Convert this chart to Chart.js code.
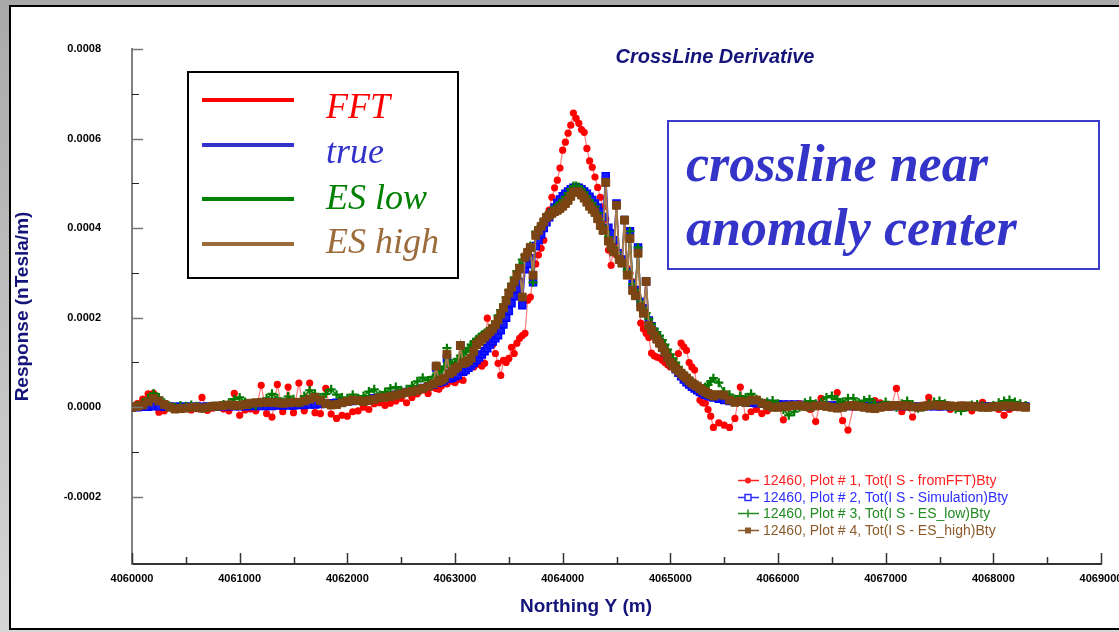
<!DOCTYPE html>
<html>
<head>
<meta charset="utf-8">
<script src="https://cdn.jsdelivr.net/npm/chart.js@4.4.0/dist/chart.umd.min.js"></script>
<style>
  html, body { margin: 0; padding: 0; }
  body {
    width: 1119px; height: 632px; overflow: hidden; position: relative;
    background: linear-gradient(to bottom, #a9a9a9, #d6d6d6);
  }
  #frame {
    position: absolute; left: 9px; top: 5px; width: 1120px; height: 621px;
    border-left: 2px solid #000; border-top: 2px solid #000; border-bottom: 2px solid #000;
    background: #fff;
  }
  #chart { position: absolute; left: 0; top: 0; }
</style>
</head>
<body>
<div id="frame"></div>
<canvas id="chart" width="1119" height="632"></canvas>
<script>
// stations along the crossline: every 50 m, every 25 m over the anomaly
const startNorthing = 4060000;
const endNorthing = 4068300;
const denseFrom = 4062800, denseTo = 4065400;

// responses in 1e-6 nTesla/m
// (rows: 4060000-4062750 by 50 m | 4062800-4065400 by 25 m | 4065450-4068300 by 50 m)
const fftResponse = [
  0,8,18,30,31,-11,-8,0,2,-4, -2,-6,-3,22,-7,-2,0,-4,-8,31,
  -18,-6,-4,-8,49,-14,-22,51,-10,45, -12,54,-8,54,-12,-14,42,-15,-25,-18,
  -20,-10,-8,0,-5,8,10,4,9,14, 20,10,22,30,38,31,
  45,42,40,48,60,52,60,58,55,62, 83,60,80,88,95,90,100,96,92,98,
  199,165,140,120,98,71,105,100,109,134, 120,143,154,160,165,239,246,290,320,340,
  355,373,420,440,469,490,507,534,574,592, 612,630,657,645,634,620,614,578,550,536,
  514,491,469,447,420,351,317,360,340,335, 325,322,310,299,280,265,246,188,175,165,
  156,121,115,112,110,105,100,95,90,92, 89,120,143,135,127,100,90,83,40,16,
  10,9,-5,-20,-45,
  -35,-40,-45,-25,45,-22,-10,-5,-14,-8, 0,5,-28,0,5,8,0,-5,-32,20,
  5,0,33,-30,-51,0,5,0,5,15, 10,5,0,42,-10,0,-22,0,5,22,
  5,0,2,-5,0,5,0,-8,0,11, 3,0,-5,-18,-5,0,5,4
];
const trueResponse = [
  0,0,1,1,2,2,1,1,1,1, 1,1,1,1,2,2,2,2,2,2,
  2,2,3,3,3,3,3,4,4,4, 4,5,5,6,6,7,8,9,10,11,
  13,14,15,17,18,20,22,24,26,28, 31,34,37,40,43,47,
  51,89,55,57,60,109,64,66,69,72, 138,79,83,88,93,99,105,111,118,125,
  132,140,147,154,161,172,185,200,215,232, 248,264,280,228,308,320,333,279,360,373,
  386,400,413,424,435,446,456,464,471,477, 482,487,490,491,490,487,482,477,470,463,
  455,446,436,425,516,401,388,373,455,344, 330,418,302,393,275,262,357,235,221,281,
  194,181,168,156,145,134,123,112,102,93, 85,77,69,62,56,51,46,42,38,34,
  31,28,26,24,22,
  19,16,14,13,12,11,10,9,8,8, 7,7,6,6,6,5,5,5,5,4,
  4,4,4,3,3,3,3,3,3,3, 3,3,3,3,3,3,2,2,2,2,
  2,2,2,2,2,2,2,2,2,2, 2,2,2,2,2,2,2,2
];
const esLowResponse = [
  0,4,10,20,31,22,10,3,0,4, 2,5,2,-3,0,3,2,6,10,18,
  22,12,6,4,10,20,30,20,12,24, 18,10,25,38,30,22,30,40,28,22,
  20,28,20,25,35,40,28,34,42,45, 38,40,48,58,66,60,
  68,72,78,84,90,132,96,98,100,108, 115,120,125,132,140,146,152,157,162,166,
  170,176,182,192,205,217,230,246,262,276, 290,304,318,330,340,350,360,279,392,398,
  405,417,428,434,440,445,450,456,462,470, 478,487,494,494,492,486,480,471,462,455,
  448,434,420,405,392,380,370,357,345,335, 325,315,305,393,275,262,357,236,222,210,
  198,186,175,168,160,150,140,129,118,109, 100,90,80,75,70,64,58,53,48,44,
  40,45,50,58,65,
  55,35,28,18,25,22,30,18,10,12, 15,8,-5,-18,-10,0,10,14,8,10,
  22,25,18,12,20,20,10,15,18,8, 3,12,4,0,8,14,6,-2,0,8,
  12,14,8,2,-4,-8,0,5,6,3, 0,4,10,14,16,12,8,4
];
const esHighResponse = [
  0,2,5,12,20,14,6,0,-4,-3, -2,0,0,-2,0,2,3,4,5,4,
  4,6,9,10,11,11,11,10,9,10, 11,11,14,18,22,15,8,5,6,10,
  13,16,15,13,15,18,21,22,24,27, 30,33,35,38,42,46,
  52,92,58,61,65,118,75,80,86,90, 138,98,100,104,110,125,140,146,152,157,
  163,169,175,184,195,208,222,238,255,268, 280,295,310,246,335,346,357,295,384,395,
  404,414,424,429,433,437,440,444,449,455, 462,471,480,482,480,474,467,458,449,442,
  435,421,406,395,502,371,357,347,451,330, 322,418,295,377,261,249,344,224,210,281,
  183,172,161,152,143,133,123,111,100,93, 87,81,76,70,65,59,54,50,47,42,
  38,34,31,28,25,
  28,27,16,11,13,11,16,16,9,4, 0,0,2,3,4,4,2,0,3,4,
  2,0,-2,0,3,4,2,0,-2,-3, 0,2,3,4,4,3,1,0,2,4,
  5,4,4,3,2,3,3,2,1,0, 0,1,2,3,3,2,1,0
];

const xMin = 4060000, xMax = 4069000, xMajorStep = 1000, xMinorStep = 500;
const yMin = -0.00035, yMax = 0.0008;
const yTickValues = [-0.0002, 0, 0.0002, 0.0004, 0.0006, 0.0008];
const yMinorValues = [-0.0001, 0.0001, 0.0003, 0.0005, 0.0007];

const keyLabels = ['FFT', 'true', 'ES low', 'ES high'];
const plotLabels = [
  '12460, Plot # 1, Tot(I S - fromFFT)Bty',
  '12460, Plot # 2, Tot(I S - Simulation)Bty',
  '12460, Plot # 3, Tot(I S - ES_low)Bty',
  '12460, Plot # 4, Tot(I S - ES_high)Bty'
];
const noteLines = ['crossline near', 'anomaly center'];

const northing = [];
for (let n = startNorthing; n <= endNorthing; n += (n >= denseFrom && n < denseTo) ? 25 : 50) {
  northing.push(n);
}
const toPoints = arr => arr.map((v, i) => ({ x: northing[i], y: v * 1e-6 }));

const navy = '#14147a';
const serif = "'Liberation Serif', 'DejaVu Serif', serif";
const sans = "'Liberation Sans', Arial, sans-serif";

const overlayPlugin = {
  id: 'overlay',
  afterDraw(chart) {
    const ctx = chart.ctx;
    const xs = chart.scales.x, ys = chart.scales.y;
    ctx.save();

    // tick marks pointing into the plot
    for (let v = xMin; v <= xMax; v += xMinorStep) {
      const px = Math.round(xs.getPixelForValue(v)) + 0.5;
      const major = v % xMajorStep === 0;
      ctx.strokeStyle = '#333';
      ctx.lineWidth = 1.5;
      ctx.beginPath();
      ctx.moveTo(px, xs.top);
      ctx.lineTo(px, xs.top - (major ? 11 : 7));
      ctx.stroke();
    }
    yTickValues.forEach(v => {
      const py = Math.round(ys.getPixelForValue(v)) + 0.5;
      ctx.strokeStyle = '#777';
      ctx.lineWidth = 1.5;
      ctx.beginPath();
      ctx.moveTo(ys.right, py);
      ctx.lineTo(ys.right + 11, py);
      ctx.stroke();
    });
    yMinorValues.forEach(v => {
      const py = Math.round(ys.getPixelForValue(v)) + 0.5;
      ctx.strokeStyle = '#222';
      ctx.lineWidth = 1;
      ctx.beginPath();
      ctx.moveTo(ys.right, py);
      ctx.lineTo(ys.right + 7, py);
      ctx.stroke();
    });

    // chart title and x title
    ctx.fillStyle = navy;
    ctx.textAlign = 'center';
    ctx.textBaseline = 'middle';
    ctx.font = 'bold italic 20px ' + sans;
    ctx.fillText('CrossLine Derivative', 715, 57);
    ctx.font = 'bold 19px ' + sans;
    ctx.fillText('Northing Y (m)', 586, 607);

    // big key box, top left
    const keyColors = ['#ff0000', '#3333cc', '#008000', '#9c6b3c'];
    const keyLineY = [100, 145, 199, 244];
    const keyBase = [118, 163, 209, 253];
    ctx.fillStyle = '#fff';
    ctx.fillRect(188, 72, 270, 206);
    ctx.strokeStyle = '#000';
    ctx.lineWidth = 2;
    ctx.strokeRect(188, 72, 270, 206);
    ctx.textAlign = 'left';
    ctx.textBaseline = 'alphabetic';
    ctx.font = 'italic 36px ' + serif;
    keyLabels.forEach((lab, i) => {
      ctx.strokeStyle = keyColors[i];
      ctx.lineWidth = 4;
      ctx.beginPath();
      ctx.moveTo(202, keyLineY[i]);
      ctx.lineTo(294, keyLineY[i]);
      ctx.stroke();
      ctx.fillStyle = keyColors[i];
      ctx.fillText(lab, 326, keyBase[i]);
    });

    // note box
    ctx.strokeStyle = '#3c3ccc';
    ctx.lineWidth = 2;
    ctx.strokeRect(668, 121, 431, 148);
    ctx.fillStyle = '#3434c8';
    ctx.font = 'bold italic 52px ' + serif;
    ctx.fillText(noteLines[0], 686, 181);
    ctx.fillText(noteLines[1], 686, 245);

    // plot legend, bottom right
    const legColors = ['#ff2020', '#2f2fff', '#228b22', '#8b5a2b'];
    const legY = [480, 497, 513, 530];
    ctx.font = '14px ' + sans;
    ctx.textBaseline = 'middle';
    plotLabels.forEach((lab, i) => {
      const y = legY[i] + 0.5;
      ctx.strokeStyle = legColors[i];
      ctx.lineWidth = 1.5;
      ctx.beginPath();
      ctx.moveTo(738, y);
      ctx.lineTo(759, y);
      ctx.stroke();
      ctx.fillStyle = legColors[i];
      if (i === 0) {
        ctx.beginPath(); ctx.arc(748, y, 3, 0, Math.PI * 2); ctx.fill();
      } else if (i === 1) {
        ctx.fillStyle = '#fff'; ctx.fillRect(745, y - 3, 6, 6);
        ctx.strokeRect(745, y - 3, 6, 6);
      } else if (i === 2) {
        ctx.beginPath(); ctx.moveTo(748, y - 4); ctx.lineTo(748, y + 4); ctx.stroke();
      } else {
        ctx.fillRect(745, y - 3, 6, 6);
      }
      ctx.fillStyle = legColors[i];
      ctx.fillText(lab, 763, legY[i] + 1);
    });
    ctx.restore();
  }
};

const ctx = document.getElementById('chart').getContext('2d');
new Chart(ctx, {
  type: 'scatter',
  data: {
    datasets: [
      {
        label: plotLabels[0], data: toPoints(fftResponse), showLine: true, order: 3,
        borderColor: 'rgba(255,40,40,0.6)', borderWidth: 1.2,
        pointStyle: 'circle', pointRadius: 3.6, pointBackgroundColor: '#ff0000',
        pointBorderColor: '#ff0000', pointBorderWidth: 0
      },
      {
        label: plotLabels[1], data: toPoints(trueResponse), showLine: true, order: 2,
        borderColor: '#0000ff', borderWidth: 1.5,
        pointStyle: 'rect', pointRadius: 5, pointBackgroundColor: '#1a1aff',
        pointBorderColor: '#0000ff', pointBorderWidth: 1.4
      },
      {
        label: plotLabels[2], data: toPoints(esLowResponse), showLine: true, order: 1,
        borderColor: '#007a00', borderWidth: 1.5,
        pointStyle: 'cross', pointRadius: 4.5, pointBorderColor: '#007a00', pointBorderWidth: 2.2
      },
      {
        label: plotLabels[3], data: toPoints(esHighResponse), showLine: true, order: 0,
        borderColor: '#a77a4c', borderWidth: 2,
        pointStyle: 'rect', pointRadius: 5.6, pointBackgroundColor: '#7b4513',
        pointBorderColor: '#7b4513', pointBorderWidth: 1
      }
    ]
  },
  options: {
    responsive: false,
    animation: false,
    devicePixelRatio: 1,
    events: [],
    layout: { padding: { left: 0, right: 0, top: 49, bottom: 0 } },
    plugins: {
      legend: { display: false },
      title: { display: false },
      tooltip: { enabled: false }
    },
    scales: {
      x: {
        type: 'linear', min: xMin, max: xMax,
        grid: { display: false, drawTicks: false },
        border: { display: true, color: '#333', width: 2 },
        ticks: {
          stepSize: xMajorStep, padding: 8, maxRotation: 0, color: '#000',
          font: { family: sans, size: 11, weight: 'bold' },
          callback: v => String(v)
        },
        afterFit: s => { s.height = 68; s.paddingLeft = 0; s.paddingRight = 18; }
      },
      y: {
        type: 'linear', min: yMin, max: yMax,
        grid: { display: false, drawTicks: false },
        border: { display: true, color: '#808080', width: 2 },
        afterBuildTicks: s => { s.ticks = yTickValues.map(v => ({ value: v })); },
        ticks: {
          padding: 31, color: '#000',
          font: { family: sans, size: 11, weight: 'bold' },
          callback: v => v.toFixed(4)
        },
        title: {
          display: true, text: 'Response (nTesla/m)', color: navy,
          font: { family: sans, size: 19, weight: 'bold' },
          padding: { top: 11, bottom: 0 }
        },
        afterFit: s => { s.width = 132; }
      }
    }
  },
  plugins: [overlayPlugin]
});
</script>
</body>
</html>
